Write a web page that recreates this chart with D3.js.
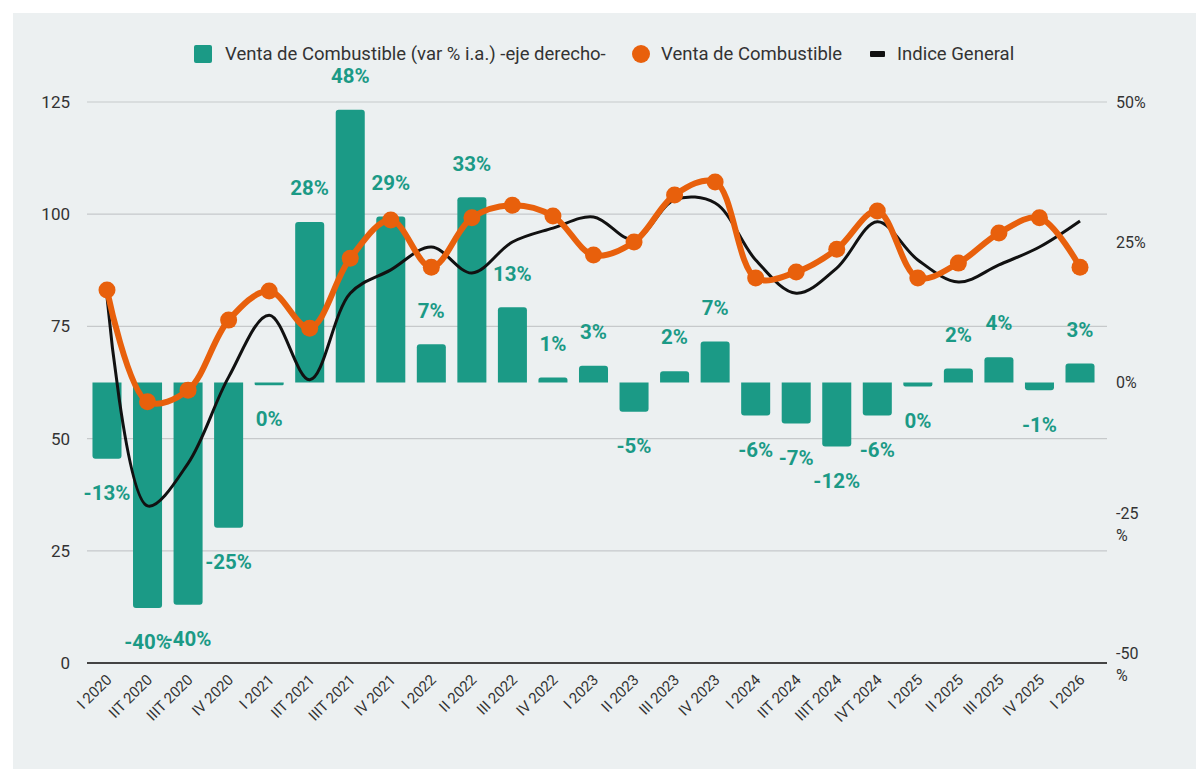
<!DOCTYPE html>
<html>
<head>
<meta charset="utf-8">
<script src="https://cdn.jsdelivr.net/npm/d3@7"></script>
<style>
  body { margin: 0; background: #fff; }
  #wrapper { position: absolute; left: 13px; top: 13px; width: 1183px; height: 756px; background: #ecf0f1; }
  text { font-family: Roboto, "Open Sans", sans-serif; }
</style>
</head>
<body>
<div id="wrapper"></div>
<script>
// data
const categories = ["I 2020", "IIT 2020", "IIIT 2020", "IV 2020", "I 2021", "IIT 2021", "IIIT 2021", "IV 2021",
  "I 2022", "II 2022", "III 2022", "IV 2022", "I 2023", "II 2023", "III 2023", "IV 2023",
  "I 2024", "IIT 2024", "IIIT 2024", "IVT 2024", "I 2025", "II 2025", "III 2025", "IV 2025", "I 2026"]
const varPct = [-13.6, -40.2, -39.6, -25.9, -0.5, 28.6, 48.6, 29.6, 6.8, 33.0, 13.4, 0.9, 3.0, -5.2, 2.0, 7.3,
  -5.9, -7.3, -11.4, -5.9, -0.7, 2.5, 4.5, -1.4, 3.4]
const varLabels = ["-13%", "-40%", "-40%", "-25%", "0%", "28%", "48%", "29%", "7%", "33%", "13%", "1%", "3%", "-5%", "2%", "7%",
  "-6%", "-7%", "-12%", "-6%", "0%", "2%", "4%", "-1%", "3%"]
const ventaComb = [83.1, 58.2, 60.8, 76.4, 82.9, 74.6, 90.2, 98.7, 88.2, 99.2, 102.0, 99.6, 90.9, 93.8, 104.3, 107.2,
  85.8, 87.1, 92.2, 100.7, 85.8, 89.1, 95.8, 99.2, 88.2]
const indiceGeneral = [81.6, 35.0, 44.5, 63.7, 77.5, 63.1, 82.4, 87.6, 92.7, 86.9, 93.8, 96.9, 99.4, 94.3, 103.2, 102.5,
  89.8, 82.4, 88.0, 98.3, 89.8, 84.9, 88.7, 92.7, 98.5]
const leftTicks = [0, 25, 50, 75, 100, 125]
const rightTicks = [-50, -25, 0, 25, 50]
const legendItems = ["Venta de Combustible (var % i.a.) -eje derecho-", "Venta de Combustible", "Indice General"]

const teal = "#1b9a86"
const orange = "#e8600c"

const dimensions = {
  width: 1183,
  height: 756,
  margin: { top: 89, right: 89, bottom: 106, left: 74 }
}
dimensions.boundedWidth = dimensions.width - dimensions.margin.left - dimensions.margin.right
dimensions.boundedHeight = dimensions.height - dimensions.margin.top - dimensions.margin.bottom

const svg = d3.select("#wrapper").append("svg")
  .attr("width", dimensions.width)
  .attr("height", dimensions.height)
const bounds = svg.append("g")
  .attr("transform", `translate(${dimensions.margin.left},${dimensions.margin.top})`)

// scales
const xScale = d3.scaleBand().domain(categories).range([0, dimensions.boundedWidth - 7]).paddingInner(0.284).paddingOuter(0.135)
const xCenter = d => xScale(d) + xScale.bandwidth() / 2
const yLeft = d3.scaleLinear().domain([0, 125]).range([dimensions.boundedHeight, 0])
const yRight = d3.scaleLinear().domain([-50, 50]).range([dimensions.boundedHeight, 0])

// grid
bounds.append("g").selectAll("line").data(leftTicks).join("line")
  .attr("x1", 0).attr("x2", dimensions.boundedWidth)
  .attr("y1", d => yLeft(d)).attr("y2", d => yLeft(d))
  .attr("stroke", d => d === 0 ? "#444" : "#c6c9cb")
  .attr("stroke-width", d => d === 0 ? 2 : 1.2)

// left axis labels
bounds.append("g").selectAll("text").data(leftTicks).join("text")
  .attr("x", -17).attr("y", d => yLeft(d)).attr("dy", "0.35em")
  .attr("text-anchor", "end").attr("fill", "#333").style("font-size", "17px")
  .text(d => d)

// right axis labels (negatives wrap to two lines)
const rightLabels = bounds.append("g").selectAll("text").data(rightTicks).join("text")
  .attr("x", dimensions.boundedWidth + 9).attr("y", d => yRight(d))
  .attr("fill", "#333").style("font-size", "16px")
rightLabels.each(function (d) {
  const t = d3.select(this)
  if (d < 0) {
    t.append("tspan").attr("x", dimensions.boundedWidth + 9).attr("dy", "-0.25em").text(d)
    t.append("tspan").attr("x", dimensions.boundedWidth + 9).attr("dy", "1.4em").text("%")
  } else {
    t.attr("dy", "0.35em").text(d + "%")
  }
})

// x axis labels
bounds.append("g").selectAll("text").data(categories).join("text")
  .attr("transform", d => `translate(${xCenter(d) + 2},${dimensions.boundedHeight + 14}) rotate(-45)`)
  .attr("text-anchor", "end").attr("dy", "0.35em")
  .attr("fill", "#333").style("font-size", "15px")
  .text(d => d)

// bars with rounded outer end
const r = 3
function barPath(i) {
  const x0 = xScale(categories[i]), w = xScale.bandwidth()
  const y0 = yRight(0), y1 = yRight(varPct[i])
  const h = Math.abs(y1 - y0)
  const rr = Math.min(r, h / 2, w / 2)
  const s = y1 < y0 ? 1 : -1
  const p = d3.path()
  p.moveTo(x0, y0); p.lineTo(x0, y1 + s * rr); p.quadraticCurveTo(x0, y1, x0 + rr, y1)
  p.lineTo(x0 + w - rr, y1); p.quadraticCurveTo(x0 + w, y1, x0 + w, y1 + s * rr); p.lineTo(x0 + w, y0)
  p.closePath()
  return p.toString()
}
bounds.append("g").selectAll("path").data(varPct).join("path")
  .attr("d", (d, i) => barPath(i))
  .attr("fill", teal)

// bar labels
bounds.append("g").selectAll("text").data(varPct).join("text")
  .attr("x", (d, i) => xCenter(categories[i]))
  .attr("y", d => yRight(d) + (d >= 0 ? -34 : 34))
  .attr("dy", "0.35em").attr("text-anchor", "middle")
  .attr("fill", teal).style("font-size", "20.5px").style("font-weight", "bold")
  .text((d, i) => varLabels[i])

// indice general line
const line = values => d3.line()
  .x((d, i) => xCenter(categories[i]))
  .y(d => yLeft(d))
  .curve(d3.curveCatmullRom.alpha(0.5))(values)
bounds.append("path").attr("d", line(indiceGeneral))
  .attr("fill", "none").attr("stroke", "#111").attr("stroke-width", 3)

// venta de combustible line + dots
bounds.append("path").attr("d", line(ventaComb))
  .attr("fill", "none").attr("stroke", orange).attr("stroke-width", 6)
bounds.append("g").selectAll("circle").data(ventaComb).join("circle")
  .attr("cx", (d, i) => xCenter(categories[i])).attr("cy", d => yLeft(d))
  .attr("r", 8.5).attr("fill", orange)

// legend
const legend = svg.append("g").attr("transform", "translate(0,41)")
legend.append("rect").attr("x", 181).attr("y", -9).attr("width", 18).attr("height", 18).attr("rx", 2).attr("fill", teal)
legend.append("text").attr("x", 212).attr("dy", "0.35em").attr("fill", "#333").style("font-size", "18.5px").text(legendItems[0])
legend.append("circle").attr("cx", 628).attr("cy", 0).attr("r", 9).attr("fill", orange)
legend.append("text").attr("x", 648).attr("dy", "0.35em").attr("fill", "#333").style("font-size", "18.5px").text(legendItems[1])
legend.append("rect").attr("x", 857).attr("y", -3).attr("width", 15).attr("height", 6).attr("rx", 1).attr("fill", "#111")
legend.append("text").attr("x", 884).attr("dy", "0.35em").attr("fill", "#333").style("font-size", "18.5px").text(legendItems[2])
</script>
</body>
</html>
